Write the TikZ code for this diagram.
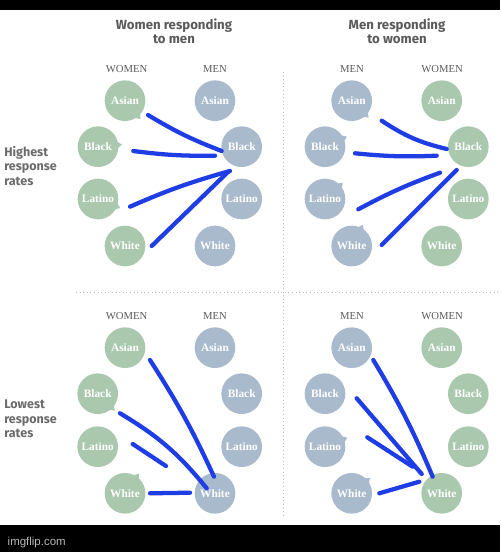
\documentclass[tikz,border=0pt]{standalone}
\usepackage{fontspec}
\setmainfont{Liberation Serif}
\newfontfamily\headfont{Fira Sans}
\newfontfamily\markfont{Liberation Sans}
\definecolor{grn}{HTML}{A9C8AD}
\definecolor{gry}{HTML}{A8BACB}
\definecolor{pen}{HTML}{1E3DE4}
\definecolor{txt}{HTML}{5A5A5A}
\definecolor{rulec}{HTML}{BDBDBD}
\newcommand{\bubtail}[3]{\fill[#3] ([shift={(#2-13:14pt)}]#1.center) -- ([shift={(#2:18pt)}]#1.center) -- ([shift={(#2+13:14pt)}]#1.center) -- cycle;}
\begin{document}
\begin{tikzpicture}[x=0.75pt,y=-0.75pt,
  bub/.style={circle,minimum size=30.5pt,inner sep=0pt,text=white,font=\bfseries\fontsize{8.5}{10}\selectfont},
  wbub/.style={bub,fill=grn},
  mbub/.style={bub,fill=gry},
  colhead/.style={text=txt,font=\fontsize{8}{9}\selectfont},
  head/.style={text=txt,align=center,font=\headfont\bfseries\fontsize{9.9}{10.6}\selectfont},
  side/.style={text=txt!90,align=left,anchor=west,inner sep=0pt,font=\headfont\bfseries\fontsize{9.4}{10.9}\selectfont},
  divider/.style={rulec,dotted,line width=0.7pt},
  stroke/.style={pen,line width=3.2pt,line cap=round}]
\useasboundingbox (0,0) rectangle (500,552);
\fill[white] (0,0) rectangle (500,552);
\fill[black] (0,0) rectangle (500,10);
\fill[black] (0,525) rectangle (500,552);
\node[anchor=west,text=gray!55,font=\markfont\fontsize{8.6}{10}\selectfont] (wm) at (3,543) {imgflip.com};

% headers
\node[head] (h1) at (174,31) {Women responding\\to men};
\node[head] (h2) at (397,31) {Men responding\\to women};
\node[side] (s1) at (4,166) {Highest\\response\\rates};
\node[side] (s2) at (4,419) {Lowest\\response\\rates};

% dividers
\coordinate (vtop) at (283,72);
\coordinate (vbot) at (283,515);
\coordinate (hl) at (76,292);
\coordinate (hr) at (498,292);
\draw[divider] (vtop) -- (vbot);
\draw[divider] (hl) -- (hr);

% column heads
\node[colhead] (c1) at (126.5,69) {WOMEN};
\node[colhead] (c2) at (215,69) {MEN};
\node[colhead] (c3) at (352,69) {MEN};
\node[colhead] (c4) at (442,69) {WOMEN};
\node[colhead] (c5) at (126.5,316) {WOMEN};
\node[colhead] (c6) at (215,316) {MEN};
\node[colhead] (c7) at (352,316) {MEN};
\node[colhead] (c8) at (442,316) {WOMEN};

% tails (drawn first, under circles)
\path (125,100.7) coordinate (t1) (98,146.7) coordinate (t2) (98,199) coordinate (t3)
      (351.7,100.7) coordinate (t4) (325,146.7) coordinate (t5) (325,199) coordinate (t6) (351.7,246) coordinate (t7)
      (97.7,393.7) coordinate (t8) (125,493.3) coordinate (t9)
      (325,446.7) coordinate (t10) (351.7,493.3) coordinate (t11);
\bubtail{t1}{-50}{grn}
\bubtail{t2}{5}{grn}
\bubtail{t3}{-22}{grn}
\bubtail{t4}{-45}{gry}
\bubtail{t5}{25}{gry}
\bubtail{t6}{42}{gry}
\bubtail{t7}{62}{gry}
\bubtail{t8}{-45}{grn}
\bubtail{t9}{55}{grn}
\bubtail{t10}{22}{gry}
\bubtail{t11}{40}{gry}

% top-left: women -> men
\node[wbub] (tlwA) at (125,100.7) {Asian};
\node[wbub] (tlwB) at (98,146.7) {Black};
\node[wbub] (tlwL) at (98,199) {Latino};
\node[wbub] (tlwW) at (125,246) {White};
\node[mbub] (tlmA) at (215,100.7) {Asian};
\node[mbub] (tlmB) at (241.7,146.7) {Black};
\node[mbub] (tlmL) at (241.7,199) {Latino};
\node[mbub] (tlmW) at (215,246) {White};
% top-right: men -> women
\node[mbub] (trmA) at (351.7,100.7) {Asian};
\node[mbub] (trmB) at (325,146.7) {Black};
\node[mbub] (trmL) at (325,199) {Latino};
\node[mbub] (trmW) at (351.7,246) {White};
\node[wbub] (trwA) at (441.7,100.7) {Asian};
\node[wbub] (trwB) at (468.3,146.7) {Black};
\node[wbub] (trwL) at (468.3,199) {Latino};
\node[wbub] (trwW) at (441.7,246) {White};
% bottom-left
\node[wbub] (blwA) at (125,347.7) {Asian};
\node[wbub] (blwB) at (97.7,393.7) {Black};
\node[wbub] (blwL) at (97.7,446.7) {Latino};
\node[wbub] (blwW) at (125,493.3) {White};
\node[mbub] (blmA) at (215,347.7) {Asian};
\node[mbub] (blmB) at (241.7,393.7) {Black};
\node[mbub] (blmL) at (241.7,446.7) {Latino};
\node[mbub] (blmW) at (215,493.3) {White};
% bottom-right
\node[mbub] (brmA) at (351.7,347.7) {Asian};
\node[mbub] (brmB) at (325,393.7) {Black};
\node[mbub] (brmL) at (325,446.7) {Latino};
\node[mbub] (brmW) at (351.7,493.3) {White};
\node[wbub] (brwA) at (441.7,347.7) {Asian};
\node[wbub] (brwB) at (468.3,393.7) {Black};
\node[wbub] (brwL) at (468.3,446.7) {Latino};
\node[wbub] (brwW) at (441.7,493.3) {White};

% hand-drawn strokes: end points
\coordinate (a1s) at (148,115);   \coordinate (a1e) at (221.7,151);
\coordinate (a2s) at (133.3,151); \coordinate (a2e) at (215,155.7);
\coordinate (a3s) at (130,206.7); \coordinate (a3e) at (230,171);
\coordinate (a4s) at (151.7,246); \coordinate (a4e) at (228.3,171.7);
\coordinate (b1s) at (381.7,120.7); \coordinate (b1e) at (446.7,149);
\coordinate (b2s) at (355,153.3); \coordinate (b2e) at (436.7,155.7);
\coordinate (b3s) at (358.3,209.3); \coordinate (b3e) at (440,172.7);
\coordinate (b4s) at (381.7,245); \coordinate (b4e) at (456.7,170);
\coordinate (c1s) at (150,360);   \coordinate (c1e) at (214,476.7);
\coordinate (c2s) at (120,413.3); \coordinate (c2e) at (206.7,488.3);
\coordinate (c3s) at (132.7,444); \coordinate (c3e) at (166,466);
\coordinate (c4s) at (150,493.3); \coordinate (c4e) at (190,492.7);
\coordinate (d1s) at (373.3,360); \coordinate (d1e) at (432.7,476.7);
\coordinate (d2s) at (356.7,398.3); \coordinate (d2e) at (421.7,474);
\coordinate (d3s) at (367.3,437.3); \coordinate (d3e) at (412.7,466.7);
\coordinate (d4s) at (379.3,493.3); \coordinate (d4e) at (419.3,481.7);

\draw[stroke] (a1s) to[bend right=5] (a1e);
\draw[stroke] (a2s) to[bend right=4] (a2e);
\draw[stroke] (a3s) to[bend left=4] (a3e);
\draw[stroke] (a4s) -- (a4e);
\draw[stroke] (b1s) to[bend right=10] (b1e);
\draw[stroke] (b2s) to[bend right=4] (b2e);
\draw[stroke] (b3s) to[bend left=4] (b3e);
\draw[stroke] (b4s) -- (b4e);
\draw[stroke] (c1s) to[bend left=4] (c1e);
\draw[stroke] (c2s) to[bend left=10] (c2e);
\draw[stroke] (c3s) -- (c3e);
\draw[stroke] (c4s) -- (c4e);
\draw[stroke] (d1s) to[bend left=4] (d1e);
\draw[stroke] (d2s) -- (d2e);
\draw[stroke] (d3s) -- (d3e);
\draw[stroke] (d4s) -- (d4e);
\end{tikzpicture}
\end{document}
